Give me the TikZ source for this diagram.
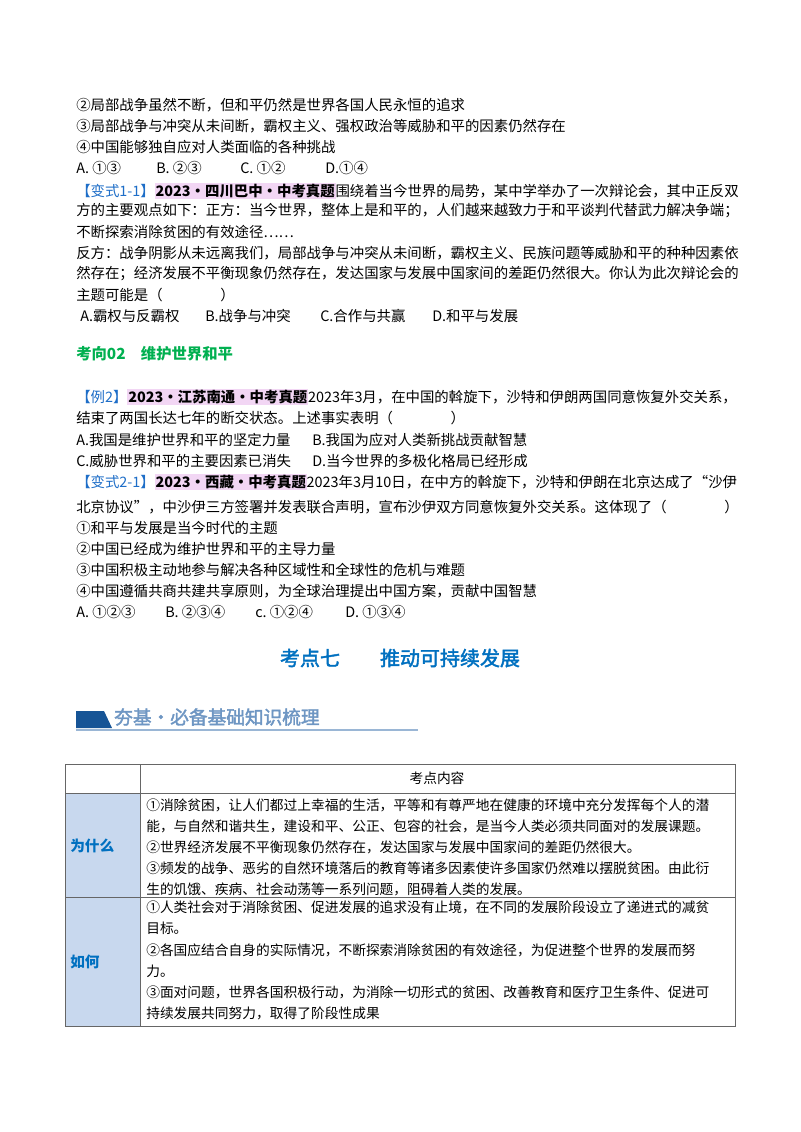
\documentclass[tikz,border=0pt]{standalone}
\usepackage{fontspec}
\setmainfont{Noto Sans CJK SC}
\newfontfamily\cjkb{Noto Sans CJK SC}[FakeBold=2]
\XeTeXlinebreaklocale "zh"
\XeTeXlinebreakskip=0pt plus 3pt
\definecolor{hl}{RGB}{242,214,244}
\definecolor{vblue}{RGB}{30,110,200}
\definecolor{kgreen}{RGB}{0,176,80}
\definecolor{tblue}{RGB}{0,112,192}
\definecolor{cellblue}{RGB}{200,216,238}
\definecolor{bannerblue}{RGB}{22,84,150}
\definecolor{bannertxt}{RGB}{110,150,195}
\newcommand\fl[1]{\makebox[487.5pt][s]{#1}}
\newcommand\tl[1]{\makebox[434pt][s]{#1}}
\newcommand\hlt[1]{{\setlength\fboxsep{0.6pt}\colorbox{hl}{\bfseries #1}}}
\tikzset{tx/.style={anchor=west,inner sep=0pt,font=\fontsize{10.8}{13}\selectfont},
  tt/.style={anchor=west,inner sep=0pt,font=\fontsize{10.3}{13}\selectfont}}
\begin{document}
\begin{tikzpicture}[x=0.75pt,y=-0.75pt]
\useasboundingbox (0,0) rectangle (800,1132);
\fill[white] (0,0) rectangle (800,1132);
\node[tx] (l1) at (76,105) {②局部战争虽然不断，但和平仍然是世界各国人民永恒的追求};
\node[tx] (l2) at (76,126) {③局部战争与冲突从未间断，霸权主义、强权政治等威胁和平的因素仍然存在};
\node[tx] (l3) at (76,147) {④中国能够独自应对人类面临的各种挑战};
\node[tx] (a1) at (76,168) {A.\ ①③};
\node[tx] (b1) at (156,168) {B.\ ②③};
\node[tx] (c1) at (240,168) {C.\ ①②};
\node[tx] (d1) at (325,168) {D.①④};
\node[tx] (v1) at (76,191) {\fl{{\color{vblue}【变式1-1】}\hlt{2023·四川巴中·中考真题}围绕着当今世界的局势，某中学举办了一次辩论会，其中正反双}};
\node[tx] (v2) at (76,211) {\fl{方的主要观点如下：正方：当今世界，整体上是和平的，人们越来越致力于和平谈判代替武力解决争端；}};
\node[tx] (v3) at (76,232) {不断探索消除贫困的有效途径……};
\node[tx] (v4) at (76,253) {\fl{反方：战争阴影从未远离我们，局部战争与冲突从未间断，霸权主义、民族问题等威胁和平的种种因素依}};
\node[tx] (v5) at (76,274) {\fl{然存在；经济发展不平衡现象仍然存在，发达国家与发展中国家间的差距仍然很大。你认为此次辩论会的}};
\node[tx] (v6) at (76,295) {主题可能是（\hspace{4em}）};
\node[tx] (a2) at (80,316) {A.霸权与反霸权};
\node[tx] (b2) at (205,316) {B.战争与冲突};
\node[tx] (c2) at (320,316) {C.合作与共赢};
\node[tx] (d2) at (432,316) {D.和平与发展};
\node[tx,font=\fontsize{11.5}{13}\bfseries\selectfont,text=kgreen] (h2) at (76,354) {考向02\quad 维护世界和平};
\node[tx] (e1) at (76,397) {\fl{{\color{vblue}【例2】}\hlt{2023·江苏南通·中考真题}2023年3月，在中国的斡旋下，沙特和伊朗两国同意恢复外交关系，}};
\node[tx] (e2) at (76,418) {结束了两国长达七年的断交状态。上述事实表明（\hspace{4em}）};
\node[tx] (e3) at (76,440) {A.我国是维护世界和平的坚定力量};
\node[tx] (e4) at (312,440) {B.我国为应对人类新挑战贡献智慧};
\node[tx] (e5) at (76,461) {C.威胁世界和平的主要因素已消失};
\node[tx] (e6) at (312,461) {D.当今世界的多极化格局已经形成};
\node[tx] (f1) at (76,482) {\fl{{\color{vblue}【变式2-1】}\hlt{2023·西藏·中考真题}2023年3月10日，在中方的斡旋下，沙特和伊朗在北京达成了“沙伊}};
\node[tx] (f2) at (76,507) {北京协议”，中沙伊三方签署并发表联合声明，宣布沙伊双方同意恢复外交关系。这体现了（\hspace{4em}）};
\node[tx] (f3) at (76,528) {①和平与发展是当今时代的主题};
\node[tx] (f4) at (76,549) {②中国已经成为维护世界和平的主导力量};
\node[tx] (f5) at (76,570) {③中国积极主动地参与解决各种区域性和全球性的危机与难题};
\node[tx] (f6) at (76,591) {④中国遵循共商共建共享原则，为全球治理提出中国方案，贡献中国智慧};
\node[tx] (a3) at (76,612) {A.\ ①②③};
\node[tx] (b3) at (165,612) {B.\ ②③④};
\node[tx] (c3) at (255,612) {c.\ ①②④};
\node[tx] (d3) at (345,612) {D.\ ①③④};
\node[inner sep=0pt,font=\cjkb\fontsize{15}{17}\selectfont,text=tblue] (t7) at (400,658) {考点七\qquad 推动可持续发展};
% banner
\fill[bannerblue] (76,711) -- (104,711) -- (112,728) -- (76,728) -- cycle;
\draw[bannertxt!70,line width=0.8pt] (76,730) -- (418,730);
\node[anchor=west,inner sep=0pt,font=\cjkb\fontsize{14}{16}\selectfont,text=bannertxt] (bn) at (114,717) {夯基·必备基础知识梳理};
% table
\fill[cellblue] (65,793) rectangle (140,1026);
\draw[gray!80!black,line width=0.6pt] (65,764) rectangle (735,1026);
\draw[gray!80!black,line width=0.6pt] (140,764) -- (140,1026);
\draw[gray!80!black,line width=0.6pt] (65,793) -- (735,793);
\draw[gray!80!black,line width=0.6pt] (65,897) -- (735,897);
\node[inner sep=0pt,font=\fontsize{10.3}{13}\selectfont] (th) at (437,778) {考点内容};
\node[tx,font=\fontsize{11}{13}\bfseries\selectfont,text=tblue] (w) at (70,846) {为什么};
\node[tx,font=\fontsize{11}{13}\bfseries\selectfont,text=tblue] (r) at (70,962) {如何};
\node[tt] (p1) at (146,805) {\tl{①消除贫困，让人们都过上幸福的生活，平等和有尊严地在健康的环境中充分发挥每个人的潜}};
\node[tt] (p2) at (146,826) {\tl{能，与自然和谐共生，建设和平、公正、包容的社会，是当今人类必须共同面对的发展课题。}};
\node[tt] (p3) at (146,847) {②世界经济发展不平衡现象仍然存在，发达国家与发展中国家间的差距仍然很大。};
\node[tt] (p4) at (146,868) {\tl{③频发的战争、恶劣的自然环境落后的教育等诸多因素使许多国家仍然难以摆脱贫困。由此衍}};
\node[tt] (p5) at (146,889) {生的饥饿、疾病、社会动荡等一系列问题，阻碍着人类的发展。};
\node[tt] (q1) at (146,907) {\tl{①人类社会对于消除贫困、促进发展的追求没有止境，在不同的发展阶段设立了递进式的减贫}};
\node[tt] (q2) at (146,928) {目标。};
\node[tt] (q3) at (146,950) {\makebox[424pt][s]{②各国应结合自身的实际情况，不断探索消除贫困的有效途径，为促进整个世界的发展而努}};
\node[tt] (q4) at (146,971) {力。};
\node[tt] (q5) at (146,992) {\tl{③面对问题，世界各国积极行动，为消除一切形式的贫困、改善教育和医疗卫生条件、促进可}};
\node[tt] (q6) at (146,1013) {持续发展共同努力，取得了阶段性成果};
\end{tikzpicture}
\end{document}
